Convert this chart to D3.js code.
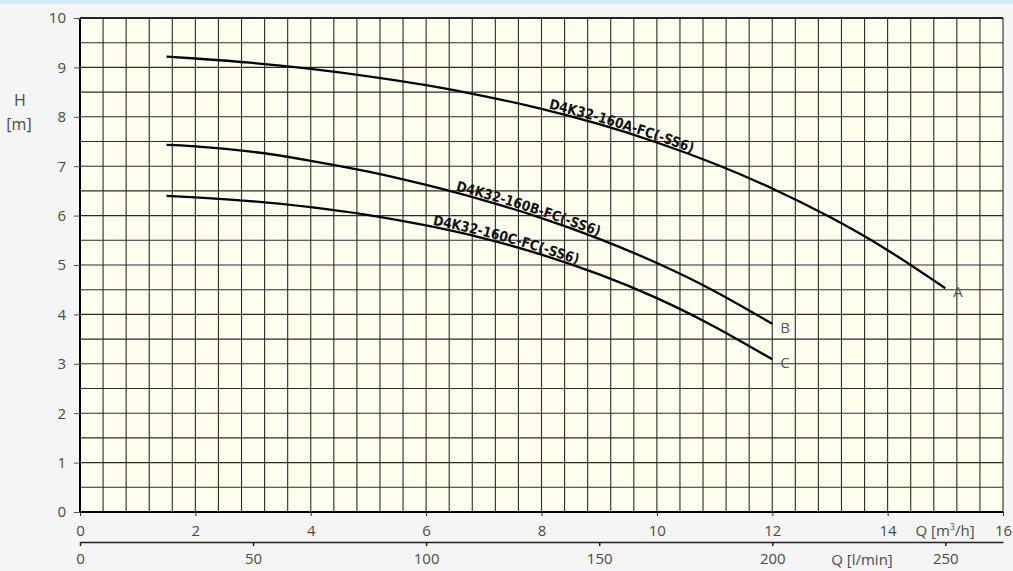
<!DOCTYPE html>
<html>
<head>
<meta charset="utf-8">
<script src="https://cdn.jsdelivr.net/npm/d3@7"></script>
<style>
  html, body { margin: 0; padding: 0; background: #f5f5f5; }
  svg { display: block; }
</style>
</head>
<body>
<svg id="chart" width="1013" height="571"></svg>
<script>
// ---- data ----
const qTicks = [0, 2, 4, 6, 8, 10, 12, 14, 16];      // m3/h
const lTicks = [0, 50, 100, 150, 200, 250];          // l/min
const hTicks = [0, 1, 2, 3, 4, 5, 6, 7, 8, 9, 10];   // m

const curveAq = [1.5, 2, 3, 4, 5, 6, 7, 8, 9, 10, 11, 12, 13, 14, 15];
const curveAh = [9.22, 9.18, 9.09, 8.97, 8.82, 8.64, 8.42, 8.16, 7.85, 7.48, 7.05, 6.55, 5.97, 5.30, 4.53];
const curveBq = [1.5, 2, 3, 4, 5, 6, 7, 8, 9, 10, 11, 12];
const curveBh = [7.43, 7.40, 7.29, 7.11, 6.89, 6.62, 6.31, 5.95, 5.53, 5.04, 4.47, 3.81];
const curveCq = [1.5, 2, 3, 4, 5, 6, 7, 8, 9, 10, 11, 12];
const curveCh = [6.40, 6.37, 6.29, 6.17, 6.01, 5.80, 5.54, 5.21, 4.81, 4.33, 3.75, 3.09];

const seriesNames = ["D4K32-160A-FC(-SS6)", "D4K32-160B-FC(-SS6)", "D4K32-160C-FC(-SS6)"];
const seriesEnds = ["A", "B", "C"];

// ---- layout ----
const svg = d3.select("#chart");
const W = 1013, H = 571;
const x = d3.scaleLinear().domain([0, 16]).range([80, 1003]);
const xl = d3.scaleLinear().domain([0, 16 * 1000 / 60]).range([80, 1003]);
const y = d3.scaleLinear().domain([0, 10]).range([512, 18]);

// top strip
svg.append("rect").attr("x", 0).attr("y", 0).attr("width", W).attr("height", 4).attr("fill", "#d6ecf9");

// plot background
svg.append("rect")
  .attr("x", x(0)).attr("y", y(10))
  .attr("width", x(16) - x(0)).attr("height", y(0) - y(10))
  .attr("fill", "#fffeef");

// grid
const grid = svg.append("g").attr("stroke", "#2a2a2a").attr("stroke-width", 1.1);
d3.range(0, 16.001, 0.4).forEach(v => {
  grid.append("line").attr("x1", x(v)).attr("x2", x(v)).attr("y1", y(0)).attr("y2", y(10));
});
d3.range(0, 10.001, 0.5).forEach(v => {
  grid.append("line").attr("x1", x(0)).attr("x2", x(16)).attr("y1", y(v)).attr("y2", y(v));
});

// frame (left & bottom heavier)
svg.append("line").attr("x1", x(0)).attr("x2", x(0)).attr("y1", y(10)).attr("y2", y(0) + 1)
  .attr("stroke", "#000").attr("stroke-width", 2);
svg.append("line").attr("x1", x(0) - 1).attr("x2", x(16)).attr("y1", y(0)).attr("y2", y(0))
  .attr("stroke", "#000").attr("stroke-width", 2);
svg.append("line").attr("x1", x(0)).attr("x2", x(16)).attr("y1", y(10)).attr("y2", y(10))
  .attr("stroke", "#000").attr("stroke-width", 1.5);

const tickFont = "'Open Sans', 'Noto Sans', sans-serif";
const tickColor = "#4a4a4a";
const tickSize = 15;

// y axis
const yAxis = svg.append("g").attr("transform", `translate(${x(0)},0)`)
  .call(d3.axisLeft(y).tickValues(hTicks).tickSize(6).tickPadding(8).tickSizeOuter(0));
yAxis.select(".domain").remove();
yAxis.selectAll("line").attr("stroke", "#555");
yAxis.selectAll("text").attr("font-family", tickFont).attr("font-size", tickSize).attr("fill", tickColor);

// x axis m3/h
const xAxis = svg.append("g").attr("transform", `translate(0,${y(0)})`)
  .call(d3.axisBottom(x).tickValues(qTicks).tickSize(4).tickPadding(9).tickSizeOuter(0));
xAxis.select(".domain").remove();
xAxis.selectAll("line").attr("stroke", "#333");
xAxis.selectAll("text").attr("font-family", tickFont).attr("font-size", tickSize).attr("fill", tickColor);

// x axis l/min
const xlAxis = svg.append("g").attr("transform", `translate(0,542)`)
  .call(d3.axisBottom(xl).tickValues(lTicks).tickSize(4).tickPadding(7).tickSizeOuter(0));
xlAxis.select(".domain").attr("stroke", "#222").attr("stroke-width", 1.5);
xlAxis.selectAll("line").attr("stroke", "#222").attr("stroke-width", 1.5);
xlAxis.selectAll("text").attr("font-family", tickFont).attr("font-size", tickSize).attr("fill", tickColor);

// axis titles
const qt = svg.append("text").attr("x", 945).attr("y", 536).attr("text-anchor", "middle")
  .attr("font-family", tickFont).attr("font-size", tickSize).attr("fill", tickColor);
qt.append("tspan").text("Q [m");
qt.append("tspan").attr("font-size", 9).attr("dy", -6).text("3");
qt.append("tspan").attr("dy", 6).text("/h]");

svg.append("text").attr("x", 862).attr("y", 565).attr("text-anchor", "middle")
  .attr("font-family", tickFont).attr("font-size", tickSize).attr("fill", tickColor).text("Q [l/min]");

svg.append("text").attr("x", 20).attr("y", 106).attr("text-anchor", "middle")
  .attr("font-family", tickFont).attr("font-size", 16).attr("fill", tickColor).text("H");
svg.append("text").attr("x", 19).attr("y", 130).attr("text-anchor", "middle")
  .attr("font-family", tickFont).attr("font-size", 16).attr("fill", tickColor).text("[m]");

// curves
const series = [
  { q: curveAq, h: curveAh, name: seriesNames[0], end: seriesEnds[0], labelX: 548 },
  { q: curveBq, h: curveBh, name: seriesNames[1], end: seriesEnds[1], labelX: 455 },
  { q: curveCq, h: curveCh, name: seriesNames[2], end: seriesEnds[2], labelX: 432 }
];

const line = d3.line().x(d => x(d[0])).y(d => y(d[1])).curve(d3.curveNatural);

series.forEach((s, i) => {
  const pts = s.q.map((q, k) => [q, s.h[k]]);
  const p = svg.append("path")
    .attr("id", "curve" + i)
    .attr("d", line(pts))
    .attr("fill", "none")
    .attr("stroke", "#000")
    .attr("stroke-width", 2.3);

  // find length along the path at labelX
  const node = p.node();
  const total = node.getTotalLength();
  let lo = 0, hi = total;
  for (let it = 0; it < 40; it++) {
    const mid = (lo + hi) / 2;
    if (node.getPointAtLength(mid).x < s.labelX) lo = mid; else hi = mid;
  }
  svg.append("text")
    .attr("font-family", "'DejaVu Sans Condensed', 'Liberation Sans Narrow', sans-serif")
    .attr("font-weight", "bold")
    .attr("font-size", 14)
    .attr("fill", "#111")
    .attr("dy", -2)
    .append("textPath")
    .attr("href", "#curve" + i)
    .attr("startOffset", lo)
    .attr("textLength", 150)
    .attr("lengthAdjust", "spacingAndGlyphs")
    .text(s.name);

  const last = pts[pts.length - 1];
  svg.append("text")
    .attr("x", x(last[0]) + 8)
    .attr("y", y(last[1]) + 9)
    .attr("font-family", tickFont).attr("font-size", 15).attr("fill", "#555")
    .text(s.end);
});
</script>
</body>
</html>
